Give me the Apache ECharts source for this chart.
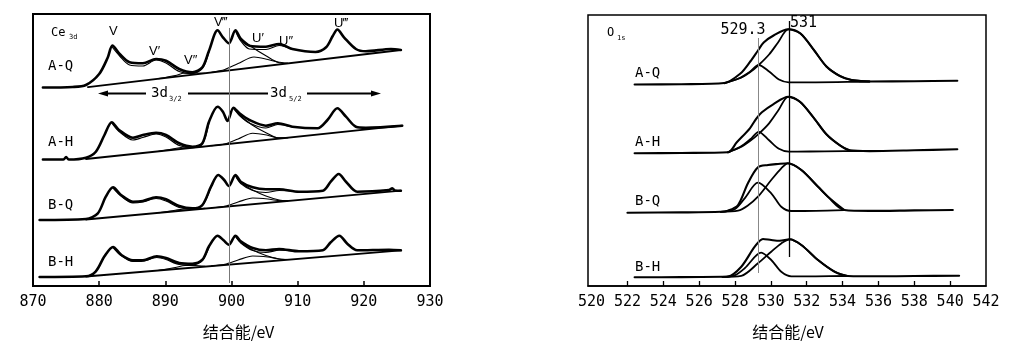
<!DOCTYPE html>
<html>
<head>
<meta charset="utf-8">
<script src="https://cdn.jsdelivr.net/npm/echarts@6/dist/echarts.min.js"></script>
<style>
  html, body { margin: 0; padding: 0; background: #fff; }
  #chart { width: 1022px; height: 352px; }
</style>
</head>
<body>
<div id="chart"></div>
<script>
// ---- Ce 3d panel: binding energy (eV) vs intensity above each trace's own start level ----
const ceSamples = ['A-Q', 'A-H', 'B-Q', 'B-H']
const ceOffsets = [198.5, 126.5, 66, 9]
const ceTicks = [870, 880, 890, 900, 910, 920, 930]
const cePeakNames = ['V', 'V′', 'V″', 'V‴', 'U′', 'U″', 'U‴']
const ceRefLine = 899.6

const ceEnvAQ = [[871.5,0],[876,0.5],[878,2.5],[880,13.5],[881.3,30],[882,42],[883.1,33.5],[884.6,25.2],[886.6,24.2],[888.6,28.5],[890.1,26.8],[892.1,18.5],[894.1,15.2],[895.6,20.2],[896.6,36.8],[897.9,57.2],[898.7,50.2],[899.6,44.2],[900.6,57.2],[901.4,48.5],[902.7,41.8],[905.2,40.8],[907.2,43.5],[909.2,38.5],[912.7,35.5],[914.3,40.2],[915.3,51.5],[916,58],[917,50.2],[918.8,38.5],[920.3,36.2],[924.1,38.5],[925.6,37.5]]
const ceEnvAH = [[871.5,0],[874.6,0],[875,2.5],[875.4,0],[878,1.8],[879.5,7.8],[880.8,24.5],[881.9,37.2],[883,29.5],[885.1,21.8],[886.6,24.5],[888.6,26.8],[890.1,24.5],[892.1,16.2],[894.1,12.8],[895.6,16.2],[896.6,37.8],[897.9,52.8],[898.7,47.8],[899.4,38.5],[900.3,51.8],[901.2,46.2],[902.7,39.5],[905.2,33.8],[907,36.2],[909.2,32.8],[913,31.2],[914.5,39.5],[916,51.2],[917.3,42.8],[918.8,32.8],[920.3,31.8],[925.8,33.8]]
const ceEnvBQ = [[871,0],[878,1],[879.8,6.7],[881,23.3],[882.1,32.7],[883.3,25],[885.1,18.3],[886.6,19],[888.6,22.7],[890.1,20.7],[892.1,14],[894.1,11.7],[895.6,15],[896.9,33.3],[898,45],[898.9,40],[899.6,34],[900.6,45],[901.4,38.3],[903.2,32.7],[905.2,30.7],[907.2,30.7],[910.2,28.3],[913.8,29.3],[915,38.3],[916.2,46],[917.3,38.3],[919,28.3],[923.8,30],[924.3,31.7],[924.7,29.5],[925.6,29.3]]
const ceEnvBH = [[871,0],[878,0.7],[879.5,5.7],[880.8,20.7],[882.1,30],[883.3,22.3],[885.1,16.7],[886.6,16.7],[888.7,20.7],[890.1,19],[892.1,14],[894.1,13.3],[895.6,17.3],[896.6,30.7],[897.9,41.3],[898.8,36.7],[899.6,32.3],[900.6,41.3],[901.4,35.7],[903.2,29],[905.2,26.7],[907.2,28],[910.2,25.7],[913.8,26.7],[915,34.7],[916.3,41.3],[917.5,33.3],[919,26.7],[923.8,27.3],[925.6,26.7]]

const ceBaseAQ = [[878.3,0.3],[925.6,37.5]]
const ceBaseAH = [[878,0.5],[925.8,33.8]]
const ceBaseBQ = [[878,0.5],[925.6,29.3]]
const ceBaseBH = [[878,0.5],[925.6,26.6]]

const ceFitAQ1 = [[881.9,41],[883.1,31.5],[884.6,22.5],[886.6,21.5],[888.6,27.5],[890.1,24.5],[892.1,16],[894,13.8],[895.6,19],[896.6,36]]
const ceFitAQ2 = [[900.6,56.5],[901.4,46.5],[902.7,38.5],[905.2,38],[907.2,42],[909.2,38]]
const ceFitAH1 = [[881.9,36.5],[883,28],[885.1,19.5],[886.6,22],[888.6,25.5],[890.1,22.5],[892.1,14],[894.1,11.8],[895.6,15.5],[896.6,37]]
const ceFitAH2 = [[900.3,51],[901.2,44],[902.7,36.5],[905.2,31.5],[907,35],[909.2,32.5]]
const ceFitBQ1 = [[882.1,32],[883.3,24],[885.1,17],[886.6,18],[888.6,21.5],[890.1,19],[892.1,12.5],[894.1,10.8],[895.6,14.5],[896.9,33]]
const ceFitBQ2 = [[900.6,44],[901.4,36.5],[903.2,29.5],[905.2,27.5],[907.2,29.5],[910.2,28]]
const ceFitBH1 = [[882.1,29.5],[883.3,21.5],[885.1,15.5],[886.6,15.8],[888.7,19.5],[890.1,17.5],[892.1,12.5],[894.1,12],[895.6,16.5],[896.6,30]]
const ceFitBH2 = [[900.6,40.5],[901.4,34],[903.2,26.5],[905.2,24.5],[907.2,26.8],[910.2,25.5]]

const ceHumpAQ = [[897,15.2],[899,18],[901,24],[903.4,30.5],[905.5,28],[907,25.5],[908.5,24.3]]
const ceHumpAH = [[897,13.8],[899,15.5],[901,20.5],[903.2,26.2],[905.3,24.5],[907,21.8],[908.5,21.8]]
const ceHumpBQ = [[897,12.2],[899,13.8],[901,18],[903.2,22],[905.5,21],[907,19.5],[908.5,19.3]]
const ceHumpBH = [[897,11.1],[899,12.8],[901,17],[903.2,21],[905.5,20],[907,18.3],[908.5,17.5]]

const ceTailAQ = [[900.6,57],[901.5,49],[903.2,40],[905.2,31.8],[907.2,24.8],[908.5,24.3]]
const ceTailAH = [[900.3,51.5],[901.5,43],[903,35],[905,27.5],[907.2,21.4],[908.5,21.8]]
const ceTailBQ = [[900.6,44.5],[901.5,37],[903.2,30],[905.2,24],[907.2,20],[908.5,19.3]]
const ceTailBH = [[900.6,41],[901.5,34],[903.2,27],[905.2,21.5],[907.2,18],[908.5,17.5]]

const ceSmallAQ = [[889,8.9],[891.5,12],[893,14.5],[894.5,14.5],[896,14.3]]
const ceSmallAH = [[889,8.2],[891.5,11],[893,12.5],[894.5,12.5],[896,13]]
const ceSmallBQ = [[889,7.3],[891.5,9.8],[893,11],[894.5,11],[896,11.6]]
const ceSmallBH = [[889,6.7],[891.5,9.5],[893,11.5],[894.5,11.5],[896,10.6]]

// ---- O 1s panel ----
const oSamples = ['A-Q', 'A-H', 'B-Q', 'B-H']
const oOffsets = [201.5, 132.7, 73.3, 8.7]
const oTicks = [520, 522, 524, 526, 528, 530, 532, 534, 536, 538, 540, 542]
const oRefLines = [529.3, 531]

const oEnvAQ = [[522.4,0],[525,0.3],[527.4,1.5],[528.3,11],[528.85,23],[529.3,34.5],[529.6,42],[530.15,49],[530.97,55.2],[531.65,51],[532.4,34.5],[533.1,18],[533.85,8.5],[534.5,4.5],[535.5,3],[538,3.3],[540.4,3.8]]
const oC531AQ = [[527.4,1.2],[528.3,6.5],[528.85,12.5],[529.35,20],[529.9,30],[530.4,42],[530.97,55.2],[531.65,51],[532.4,34.5],[533.1,18],[533.85,8.5],[534.5,4.5],[535.5,3]]
const oC529AQ = [[527.4,1.5],[528.2,6],[528.85,13],[529.32,19.5],[529.9,13],[530.45,5],[531,2.2],[532.5,2.2],[534.5,2.6],[535.5,3]]

const oEnvAH = [[522.4,0],[525,0.3],[527.6,1],[528.1,11],[528.83,25],[529.2,35],[529.5,41],[530.13,49],[530.97,56.5],[531.62,51.5],[532.37,36],[533.1,19],[533.85,8],[534.4,3],[535.5,2.2],[538,3],[540.4,4]]
const oC531AH = [[527.6,1],[528.3,6],[528.85,12.5],[529.35,20],[529.9,30],[530.4,42.5],[530.97,56.5],[531.62,51.5],[532.37,36],[533.1,19],[533.85,8],[534.4,3]]
const oC529AH = [[527.6,1],[528.3,6.5],[528.85,14],[529.32,21.5],[529.9,13],[530.45,4.5],[531,1.6],[533,2],[535.5,2.2]]

const oEnvBQ = [[522,0],[525,0.3],[527.2,0.9],[527.6,2],[528.17,7.7],[528.72,29.4],[529.28,45.4],[529.84,47.7],[530.4,48.7],[530.95,49.4],[531.7,42.7],[532.63,26],[533.18,16],[534.1,2.7],[535.5,1.8],[538,2.3],[540.15,2.7]]
const oC531BQ = [[527.2,0.9],[528.17,2],[528.7,7],[529.28,16],[530.02,32.7],[530.58,44.4],[530.95,49.4],[531.7,42.7],[532.63,26],[533.18,16],[534.1,2.7]]
const oC529BQ = [[527.2,0.9],[527.98,3.5],[528.54,14.4],[529.28,30],[530.02,19.4],[530.58,6],[531.14,1.7],[532.5,1.8],[534.1,2.5]]

const oEnvBH = [[522.4,0],[525,0.2],[527.3,0.5],[527.6,0.7],[528.35,10.6],[529.1,30.6],[529.56,38.3],[530.02,37.3],[530.49,36.6],[531.05,38],[531.7,32.3],[532.63,17.3],[533.56,5.6],[534.3,1.3],[536,1],[538,1.3],[540.5,1.6]]
const oC531BH = [[527.3,0.5],[528.35,1.5],[529.28,14],[530.02,25.6],[530.58,33.9],[531.05,38],[531.7,32.3],[532.63,17.3],[533.56,5.6],[534.3,1.3]]
const oC529BH = [[527.3,0.5],[527.98,2],[528.54,9],[529.46,24.6],[530.02,17.3],[530.58,5.6],[531.14,1],[532.5,1],[534.3,1.3]]

const chart = echarts.init(document.getElementById('chart'))
const MONO = 'DejaVu Sans Mono'
const SANS = 'Liberation Sans'
const CJK = 'Noto Sans CJK SC'

// one trace, lifted by its stack offset
const trace = (panel, pts, off, width, color) => ({
  type: 'line',
  xAxisIndex: panel,
  yAxisIndex: panel,
  data: pts.map((p) => [p[0], p[1] + off]),
  symbol: 'none',
  smooth: 0.3,
  silent: true,
  lineStyle: { width, color: color || '#000', join: 'round', cap: 'round' },
})

const series = []
const ceEnv = [ceEnvAQ, ceEnvAH, ceEnvBQ, ceEnvBH]
const ceBase = [ceBaseAQ, ceBaseAH, ceBaseBQ, ceBaseBH]
const ceFit1 = [ceFitAQ1, ceFitAH1, ceFitBQ1, ceFitBH1]
const ceFit2 = [ceFitAQ2, ceFitAH2, ceFitBQ2, ceFitBH2]
const ceHump = [ceHumpAQ, ceHumpAH, ceHumpBQ, ceHumpBH]
const ceTail = [ceTailAQ, ceTailAH, ceTailBQ, ceTailBH]
const ceSmall = [ceSmallAQ, ceSmallAH, ceSmallBQ, ceSmallBH]
ceSamples.forEach((s, i) => {
  const off = ceOffsets[i]
  series.push(trace(0, ceBase[i], off, 1.8))
  series.push(trace(0, ceSmall[i], off, 1.1))
  series.push(trace(0, ceHump[i], off, 1.1))
  series.push(trace(0, ceTail[i], off, 1.1))
  series.push(trace(0, ceFit1[i], off, 1.2))
  series.push(trace(0, ceFit2[i], off, 1.2))
  series.push(trace(0, ceEnv[i], off, 2.6))
})
// vertical guide in the Ce panel
series[0].markLine = {
  silent: true, symbol: 'none', label: { show: false },
  lineStyle: { color: '#777', width: 1, type: 'solid' },
  data: [[{ coord: [ceRefLine, 3] }, { coord: [ceRefLine, 258] }]],
}

const oEnv = [oEnvAQ, oEnvAH, oEnvBQ, oEnvBH]
const o531 = [oC531AQ, oC531AH, oC531BQ, oC531BH]
const o529 = [oC529AQ, oC529AH, oC529BQ, oC529BH]
oSamples.forEach((s, i) => {
  const off = oOffsets[i]
  series.push(trace(1, o529[i], off, 1.8))
  series.push(trace(1, o531[i], off, 1.8))
  series.push(trace(1, oEnv[i], off, 2.1))
})
series[ceSamples.length * 7].markLine = {
  silent: true, symbol: 'none', label: { show: false },
  data: [
    [{ coord: [oRefLines[0], 13], lineStyle: { color: '#888', width: 1, type: 'solid' } }, { coord: [oRefLines[0], 248] }],
    [{ coord: [oRefLines[1], 29], lineStyle: { color: '#000', width: 1.3, type: 'solid' } }, { coord: [oRefLines[1], 265] }],
  ],
}

const txt = (text, x, y, size, opts) => ({
  type: 'text', x, y, silent: true, z: 100,
  style: Object.assign({ text, fontSize: size, fontFamily: MONO, fill: '#000', align: 'left', verticalAlign: 'middle' }, opts || {}),
})

const ceLabelY = [66.5, 142.5, 205, 262.5]
const oLabelY = [73, 142, 201, 267]
const peakPos = [[113, 31], [153, 51], [188, 60], [218, 22], [256, 38], [283, 41], [338, 23]]

const graphic = [
  txt('Ce', 51, 33, 12),
  txt('3d', 69, 37.5, 7),
  txt('O', 607, 32.5, 12),
  txt('1s', 617, 38, 7),
  txt(String(oRefLines[0]), 743, 30, 15, { align: 'center' }),
  txt(String(oRefLines[1]), 790, 23, 15),
  txt('结合能/eV', 238.5, 332, 16, { align: 'center', fontFamily: CJK }),
  txt('结合能/eV', 788, 332, 16, { align: 'center', fontFamily: CJK }),
  // 3d arrow
  { type: 'line', silent: true, shape: { x1: 106, y1: 93.5, x2: 146, y2: 93.5 }, style: { stroke: '#000', lineWidth: 1.8 } },
  { type: 'line', silent: true, shape: { x1: 188, y1: 93.5, x2: 268, y2: 93.5 }, style: { stroke: '#000', lineWidth: 1.8 } },
  { type: 'line', silent: true, shape: { x1: 307, y1: 93.5, x2: 373, y2: 93.5 }, style: { stroke: '#000', lineWidth: 1.8 } },
  { type: 'polygon', silent: true, shape: { points: [[98, 93.5], [108, 90.5], [108, 96.5]] }, style: { fill: '#000' } },
  { type: 'polygon', silent: true, shape: { points: [[381, 93.5], [371, 90.5], [371, 96.5]] }, style: { fill: '#000' } },
  txt('3d', 151, 93, 14),
  txt('3/2', 169, 99.5, 7),
  txt('3d', 270, 93, 14),
  txt('5/2', 289, 99.5, 7),
]
ceSamples.forEach((s, i) => graphic.push(txt(s, 48, ceLabelY[i], 14)))
oSamples.forEach((s, i) => graphic.push(txt(s, 635, oLabelY[i], 14)))
cePeakNames.forEach((n, i) => graphic.push(txt(n, peakPos[i][0] - 4, peakPos[i][1], 13, { fontFamily: SANS })))

chart.setOption({
  animation: false,
  backgroundColor: '#fff',
  grid: [
    { left: 33, right: 592, top: 14, bottom: 66, show: true, borderColor: '#000', borderWidth: 2 },
    { left: 588, right: 36, top: 15, bottom: 66, show: true, borderColor: '#000', borderWidth: 1.5 },
  ],
  xAxis: [
    {
      type: 'value', gridIndex: 0, min: ceTicks[0], max: ceTicks[ceTicks.length - 1], interval: 10,
      axisLine: { show: true, lineStyle: { color: '#000', width: 2 } },
      axisTick: { show: true, inside: true, length: 5, lineStyle: { color: '#000', width: 1.5 } },
      axisLabel: { color: '#000', fontFamily: MONO, fontSize: 15, margin: 9 },
      splitLine: { show: false },
    },
    {
      type: 'value', gridIndex: 1, min: 519.8, max: oTicks[oTicks.length - 1],
      axisLine: { show: true, lineStyle: { color: '#000', width: 1.5 } },
      axisTick: { show: true, inside: true, length: 5, customValues: oTicks.slice(1, -1), lineStyle: { color: '#000', width: 1.3 } },
      axisLabel: { color: '#000', fontFamily: MONO, fontSize: 15, margin: 9, customValues: oTicks },
      splitLine: { show: false },
    },
  ],
  yAxis: [
    { type: 'value', gridIndex: 0, min: 0, max: 272, show: false },
    { type: 'value', gridIndex: 1, min: 0, max: 271, show: false },
  ],
  graphic,
  series,
})
</script>
</body>
</html>
